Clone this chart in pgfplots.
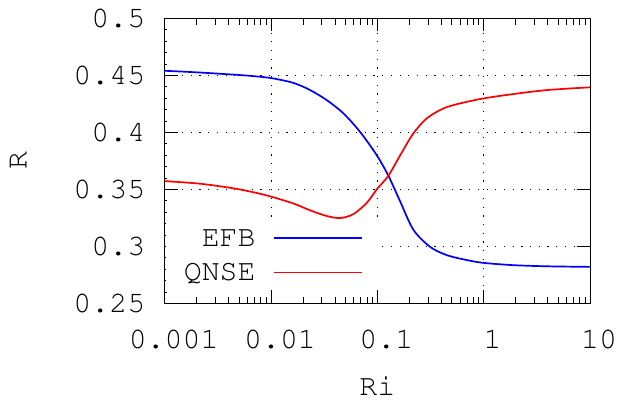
\documentclass[border=0pt]{standalone}
\usepackage[T1]{fontenc}
\usepackage{courier}
\usepackage{pgfplots}
\pgfplotsset{compat=1.18}
\renewcommand{\familydefault}{\ttdefault}
\newcommand{\gpfont}{\fontsize{30}{36}\selectfont\ttfamily}

\begin{document}
\begin{tikzpicture}
% page = 617 x 400 bp, axis box lower left at (0,0)
\useasboundingbox (-164.7bp,-96.5bp) rectangle (452.3bp,303.5bp);
\begin{axis}[
  at={(0,0)}, anchor=south west,
  scale only axis,
  width=425.3bp, height=285.2bp,
  xmode=log,
  xmin=0.001, xmax=10,
  ymin=0.25, ymax=0.5,
  xtick={0.001,0.01,0.1,1,10},
  xticklabels={0.001,0.01,0.1,1,10},
  minor xtick={0.002,0.003,0.004,0.005,0.006,0.007,0.008,0.009,
               0.02,0.03,0.04,0.05,0.06,0.07,0.08,0.09,
               0.2,0.3,0.4,0.5,0.6,0.7,0.8,0.9,
               2,3,4,5,6,7,8,9},
  ytick={0.25,0.3,0.35,0.4,0.45,0.5},
  yticklabels={0.25,0.3,0.35,0.4,0.45,0.5},
  extra y ticks={0.26,0.27,0.28,0.29,0.31,0.32,0.33,0.34,0.36,0.37,0.38,0.39,
                 0.41,0.42,0.43,0.44,0.46,0.47,0.48,0.49},
  extra y tick labels={},
  extra y tick style={grid=none, major tick length=2.5bp, ytick pos=left},
  tick align=inside,
  major tick length=13bp,
  minor tick length=6.5bp,
  axis line style={black, line width=1bp},
  every tick/.style={black, line width=0.8bp},
  grid=major,
  major grid style={black, line width=0.8bp, dash pattern=on 1.2bp off 7.5bp},
  ticklabel style={font=\gpfont, inner sep=0pt},
  xticklabel style={anchor=north, xshift=9bp, yshift=-25.8bp},
  yticklabel style={anchor=east, xshift=-19.3bp},
  label style={font=\gpfont, inner sep=0pt},
  xlabel={Ri},
  ylabel={R},
  xlabel style={at={(axis description cs:0.5,-0.321)}, anchor=base},
  ylabel style={at={(axis description cs:-0.3245,0.5)}, anchor=base},
  legend plot pos=right,
  legend cell align=right,
  legend image code/.code={\draw[#1] (0bp,0bp) -- (88bp,0bp);},
  legend style={at={(axis description cs:0.5086,0.2914)}, anchor=north east,
    draw=none, fill=white, font=\gpfont,
    inner xsep=18bp, inner ysep=0pt, column sep=17.5bp, row sep=0pt,
    nodes={inner sep=0pt, text height=25.8bp, text depth=8.8bp}},
]

\addplot[blue, line width=1.7bp, smooth] coordinates {
(0.001,0.4540) (0.0016,0.4531) (0.0025,0.4521) (0.004,0.4509)
(0.0063,0.4496) (0.01,0.4476) (0.0162,0.4434)
(0.0233,0.4371) (0.0334,0.4283) (0.0479,0.4167) (0.0687,0.4005)
(0.0987,0.3800) (0.127,0.3620) (0.163,0.3400) (0.218,0.3147)
(0.313,0.2997) (0.45,0.2924) (0.7,0.2880) (1,0.2856)
(1.9,0.2836) (4,0.2826) (10,0.2821)
};
\addlegendentry{EFB}

\addplot[red, line width=1.7bp, smooth] coordinates {
(0.001,0.3573) (0.00215,0.3550) (0.0044,0.3510) (0.007,0.3473)
(0.01,0.3437) (0.0162,0.3377) (0.0233,0.3317) (0.0334,0.3267) (0.0446,0.3249)
(0.0594,0.3283) (0.0795,0.3382) (0.0987,0.3500) (0.127,0.3620)
(0.163,0.3795) (0.218,0.3991) (0.292,0.4123) (0.418,0.4210)
(0.6,0.4254) (1,0.4298) (1.9,0.4336) (3.93,0.4371) (10,0.4395)
};
\addlegendentry{QNSE}

\end{axis}
\end{tikzpicture}
\end{document}
